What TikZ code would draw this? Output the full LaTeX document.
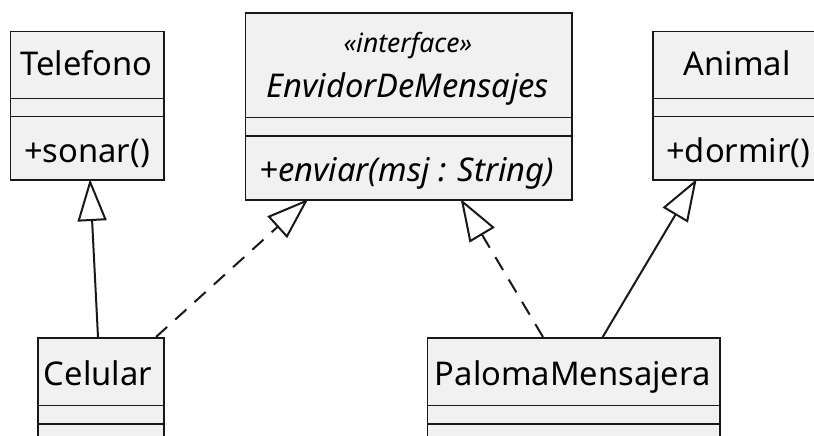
\documentclass[tikz,border=0pt]{standalone}
\usepackage{fontspec}
\setmainfont{Noto Sans}
\usetikzlibrary{arrows.meta}
\definecolor{boxfill}{HTML}{F1F1F1}
\definecolor{boxline}{HTML}{181818}
\begin{document}
\begin{tikzpicture}[x=1pt,y=-1pt,
  cls/.style={draw=boxline, fill=boxfill, line width=1.5pt, inner sep=0pt, anchor=north west},
  sepline/.style={draw=boxline, line width=1.3pt},
  txt/.style={inner sep=0pt, anchor=base, font=\fontsize{32.7}{38}\selectfont, text=black},
  itxt/.style={txt, font=\fontsize{32.7}{38}\selectfont\itshape},
  stxt/.style={txt, font=\fontsize{26.5}{30}\selectfont\itshape},
  mtxt/.style={txt, anchor=base west},
  imtxt/.style={itxt, anchor=base west},
  gen/.style={draw=boxline, line width=2pt, -{Triangle[length=42pt,width=29pt,fill=white]}},
  real/.style={gen, dash pattern=on 15pt off 11pt}
]
\useasboundingbox (0,0) rectangle (814,436);
\clip (0,0) rectangle (814,436);
% boxes
\node[cls, minimum width=153.5pt, minimum height=148.3pt] (tel) at (9.5,30.7) {};
\node[cls, minimum width=326.3pt, minimum height=186.7pt] (env) at (244.7,12.3) {};
\node[cls, minimum width=170pt, minimum height=148.3pt] (ani) at (652,30.7) {};
\node[cls, minimum width=126pt, minimum height=110pt] (cel) at (37,337) {};
\node[cls, minimum width=292.3pt, minimum height=110pt] (pal) at (426.7,337) {};
% separators
\draw[sepline] (9.5,98.3) -- (163,98.3);
\draw[sepline] (9.5,116.7) -- (163,116.7);
\draw[sepline] (244.7,117.3) -- (571,117.3);
\draw[sepline] (244.7,136) -- (571,136);
\draw[sepline] (652,98.3) -- (822,98.3);
\draw[sepline] (652,116.7) -- (822,116.7);
\draw[sepline] (37,405.7) -- (163,405.7);
\draw[sepline] (37,424) -- (163,424);
\draw[sepline] (426.7,405.7) -- (719,405.7);
\draw[sepline] (426.7,424) -- (719,424);
% texts
\node[txt] (telname) at (86.5,76) {Telefono};
\node[mtxt] (telop) at (24,162) {+sonar()};
\node[stxt] (envst) at (407.9,53) {«interface»};
\node[itxt] (envname) at (407.9,97) {EnvidorDeMensajes};
\node[imtxt] (envop) at (259.5,181) {+enviar(msj : String)};
\node[txt] (aniname) at (737.2,76) {Animal};
\node[mtxt] (aniop) at (666,162) {+dormir()};
\node[txt] (celname) at (98,385) {Celular};
\node[txt] (palname) at (572.8,385) {PalomaMensajera};
% connector endpoints
\coordinate (c1) at (98,337);
\coordinate (t1) at (90,179);
\coordinate (c2) at (156,337);
\coordinate (e1) at (308.3,199);
\coordinate (p1) at (543,337);
\coordinate (e2) at (460.7,199);
\coordinate (p2) at (602.7,337);
\coordinate (a1) at (696.7,179);
% connectors
\draw[gen] (c1) -- (t1);
\draw[real] (c2) -- (e1);
\draw[real] (p1) -- (e2);
\draw[gen] (p2) -- (a1);
\end{tikzpicture}
\end{document}
